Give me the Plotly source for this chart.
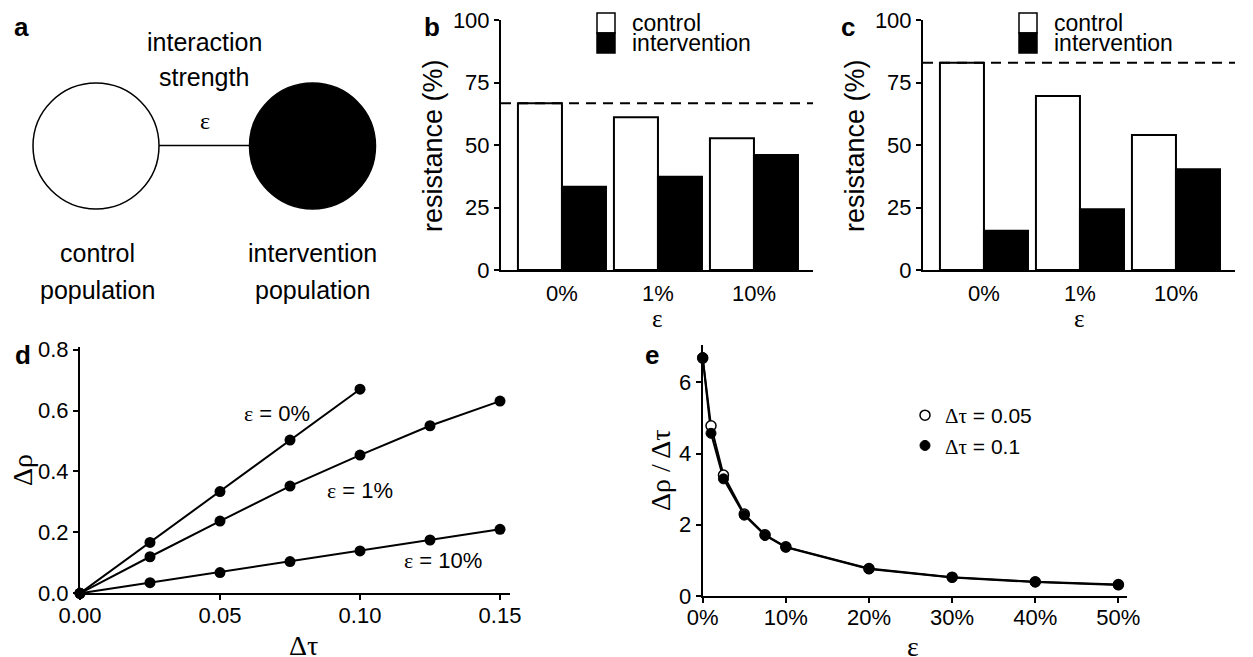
import plotly.graph_objects as go

W, H = 1253, 657
OFF = 8  # page body margin that offsets the figure in the browser
SANS = "Liberation Sans, Arial, Helvetica, sans-serif"
SERIF = "Liberation Serif, Times New Roman, serif"

# ---------------- data ----------------
eps_cats = ["0%", "1%", "10%"]
b_control = [66.7, 61.1, 52.7]
b_intervention = [33.3, 37.3, 46.0]
b_baseline = 66.7
c_control = [82.9, 69.6, 54.0]
c_intervention = [15.7, 24.3, 40.3]
c_baseline = 82.9
bar_yticks = [0, 25, 50, 75, 100]

d_tau = [0, 0.025, 0.05, 0.075, 0.1, 0.125, 0.15]
d_eps0 = [0, 0.167, 0.334, 0.503, 0.670]
d_eps1 = [0, 0.120, 0.237, 0.352, 0.4536, 0.550, 0.631]
d_eps10 = [0, 0.035, 0.068, 0.104, 0.139, 0.175, 0.210]
d_xticks = [0, 0.05, 0.10, 0.15]
d_yticks = [0, 0.2, 0.4, 0.6, 0.8]

e_eps = [0, 1, 2.5, 5, 7.5, 10, 20, 30, 40, 50]
e_tau005 = [6.68, 4.78, 3.40, 2.30, 1.72, 1.38, 0.77, 0.53, 0.40, 0.32]
e_tau01 = [6.70, 4.57, 3.29, 2.27, 1.70, 1.37, 0.76, 0.52, 0.39, 0.31]
e_xticks = [0, 10, 20, 30, 40, 50]
e_xticklabels = ["0%", "10%", "20%", "30%", "40%", "50%"]
e_yticks = [0, 2, 4, 6]


def px(x):
    return (x - OFF) / W


def py(y):
    return 1 - (y - OFF) / H


fig = go.Figure()

# ---------------- panel b / c bars ----------------
for (ctrl, intv, xa, ya) in [(b_control, b_intervention, "x", "y"),
                             (c_control, c_intervention, "x2", "y2")]:
    fig.add_trace(go.Bar(x=eps_cats, y=ctrl, xaxis=xa, yaxis=ya, name="control",
                         marker=dict(color="white", line=dict(color="black", width=2)),
                         showlegend=False))
    fig.add_trace(go.Bar(x=eps_cats, y=intv, xaxis=xa, yaxis=ya, name="intervention",
                         marker=dict(color="black", line=dict(color="black", width=2)),
                         showlegend=False))

# ---------------- panel d ----------------
for ys in [d_eps0, d_eps1, d_eps10]:
    fig.add_trace(go.Scatter(x=d_tau[:len(ys)], y=ys, xaxis="x3", yaxis="y3",
                             mode="lines+markers", cliponaxis=False,
                             line=dict(color="black", width=2),
                             marker=dict(color="black", size=11),
                             showlegend=False))

# ---------------- panel e ----------------
fig.add_trace(go.Scatter(x=e_eps, y=e_tau005, xaxis="x4", yaxis="y4", mode="lines",
                         line=dict(color="black", width=2), showlegend=False,
                         cliponaxis=False))
fig.add_trace(go.Scatter(x=e_eps, y=e_tau01, xaxis="x4", yaxis="y4", mode="lines",
                         line=dict(color="black", width=2), showlegend=False,
                         cliponaxis=False))
fig.add_trace(go.Scatter(x=e_eps, y=e_tau005, xaxis="x4", yaxis="y4", mode="markers",
                         name="<span style='font-family:Liberation Serif'>Δτ</span> = 0.05",
                         marker=dict(color="white", size=10, line=dict(color="black", width=1.5)),
                         cliponaxis=False))
fig.add_trace(go.Scatter(x=e_eps, y=e_tau01, xaxis="x4", yaxis="y4", mode="markers",
                         name="<span style='font-family:Liberation Serif'>Δτ</span> = 0.1",
                         marker=dict(color="black", size=10, line=dict(color="black", width=1)),
                         cliponaxis=False))

axis_common = dict(showline=True, linecolor="black", linewidth=2, showgrid=False,
                   zeroline=False, tickfont=dict(family=SANS, size=22, color="black"),
                   tickcolor="black", tickwidth=2, ticklen=5, automargin=False,
                   ticklabeloverflow="allow")

layout = dict(
    width=W, height=H, autosize=False,
    margin=dict(l=0, r=0, t=0, b=0, pad=0, autoexpand=False),
    paper_bgcolor="white", plot_bgcolor="white",
    font=dict(family=SANS, color="black", size=22),
    barmode="group", bargap=0.083, bargroupgap=0.0,
    showlegend=True,
    legend=dict(x=px(905), y=py(395), xanchor="left", yanchor="top",
                font=dict(family=SANS, size=21, color="black"),
                bgcolor="rgba(0,0,0,0)", itemsizing="trace", tracegroupgap=0),
)

# panel b axes
layout["xaxis"] = dict(axis_common, domain=[px(501), px(813)], anchor="y",
                       type="category", range=[-0.635, 2.615], ticks="",
                       ticklabelstandoff=3)
layout["yaxis"] = dict(axis_common, domain=[py(270), py(20)], anchor="x",
                       range=[0, 100], tickvals=bar_yticks, ticks="outside")
# panel c axes
layout["xaxis2"] = dict(axis_common, domain=[px(923), px(1235)], anchor="y2",
                        type="category", range=[-0.635, 2.615], ticks="",
                        ticklabelstandoff=3)
layout["yaxis2"] = dict(axis_common, domain=[py(270), py(20)], anchor="x2",
                        range=[0, 100], tickvals=bar_yticks, ticks="outside")
# panel d axes
layout["xaxis3"] = dict(axis_common, domain=[px(80), px(510)], anchor="y3",
                        range=[0, 0.15357], tickvals=d_xticks, tickformat=".2f",
                        ticks="outside", ticklabelstandoff=-4)
layout["yaxis3"] = dict(axis_common, domain=[py(593.3), py(347)], anchor="x3",
                        range=[0, 0.8085], tickvals=d_yticks, tickformat=".1f",
                        ticks="outside")
# panel e axes
layout["xaxis4"] = dict(axis_common, domain=[px(702.7), px(1126.7)], anchor="y4",
                        range=[0, 51.0], tickvals=e_xticks, ticktext=e_xticklabels,
                        ticks="outside", ticklabelstandoff=-4)
layout["yaxis4"] = dict(axis_common, domain=[py(596), py(345)], anchor="x4",
                        range=[0, 7.05], tickvals=e_yticks, ticks="outside")

fig.update_layout(**layout)

shapes = []
annotations = []


def note(text, x, y, size, family=SANS, angle=0, xanchor="center"):
    annotations.append(dict(text=text, xref="paper", yref="paper", x=px(x), y=py(y),
                            xanchor=xanchor, yanchor="middle", showarrow=False,
                            textangle=angle, font=dict(family=family, size=size)))


# axis titles (placed explicitly)
note("resistance (%)", 433, 146, 27, angle=-90)
note("resistance (%)", 855, 146, 27, angle=-90)
note("ε", 657, 318, 25, family=SERIF)
note("ε", 1079, 318, 25, family=SERIF)
note("Δρ", 22, 470, 28, family=SERIF, angle=-90)
note("Δτ", 303, 645, 28, family=SERIF)
note("Δρ / Δτ", 660, 471, 28, family=SERIF, angle=-90)
note("ε", 913, 646, 28, family=SERIF)

# baselines (dashed)
for xa, ya, base in [("x", "y", b_baseline), ("x2", "y2", c_baseline)]:
    shapes.append(dict(type="line", xref=f"{xa} domain", yref=ya, x0=0, x1=1,
                       y0=base, y1=base, line=dict(color="black", width=2, dash="10px,7px")))

# bar-panel legends
for sx, tx in [(597, 630), (1019, 1052)]:
    shapes.append(dict(type="rect", xref="paper", yref="paper", x0=px(sx), x1=px(sx + 18),
                       y0=py(33), y1=py(13), fillcolor="white",
                       line=dict(color="black", width=1.5)))
    shapes.append(dict(type="rect", xref="paper", yref="paper", x0=px(sx), x1=px(sx + 18),
                       y0=py(53), y1=py(33), fillcolor="black",
                       line=dict(color="black", width=1.5)))
    note("control", tx, 23, 23, xanchor="left")
    note("intervention", tx, 43, 23, xanchor="left")

# panel a schematic
R = 63
for cx, fill in [(96, "white"), (312.5, "black")]:
    shapes.append(dict(type="circle", xref="paper", yref="paper",
                       x0=px(cx - R), x1=px(cx + R), y0=py(146 + R), y1=py(146 - R),
                       fillcolor=fill, line=dict(color="black", width=1.5)))
shapes.append(dict(type="line", xref="paper", yref="paper", x0=px(159), x1=px(249.5),
                   y0=py(145.5), y1=py(145.5), line=dict(color="black", width=1.5)))

for txt, x, y in [("interaction", 204, 42), ("strength", 204, 77),
                  ("control", 97, 253), ("population", 97, 290),
                  ("intervention", 312, 253), ("population", 312, 290)]:
    note(txt, x, y, 25)
note("ε", 205, 121, 24, family=SERIF)

# panel letters
for txt, x, y in [("a", 21, 27), ("b", 432, 27), ("c", 848, 27), ("d", 23, 355), ("e", 652, 355)]:
    note(f"<b>{txt}</b>", x, y, 26)

# panel d curve labels
for lab, x, y in [("0%", 0.0704, 0.590), ("1%", 0.0999, 0.338), ("10%", 0.1296, 0.109)]:
    annotations.append(dict(text=f"<span style='font-family:Liberation Serif'>ε</span> = {lab}",
                            xref="x3", yref="y3", x=x, y=y, xanchor="center",
                            yanchor="middle", showarrow=False,
                            font=dict(family=SANS, size=22)))

fig.update_layout(shapes=shapes, annotations=annotations)
fig.write_html("out.html")
